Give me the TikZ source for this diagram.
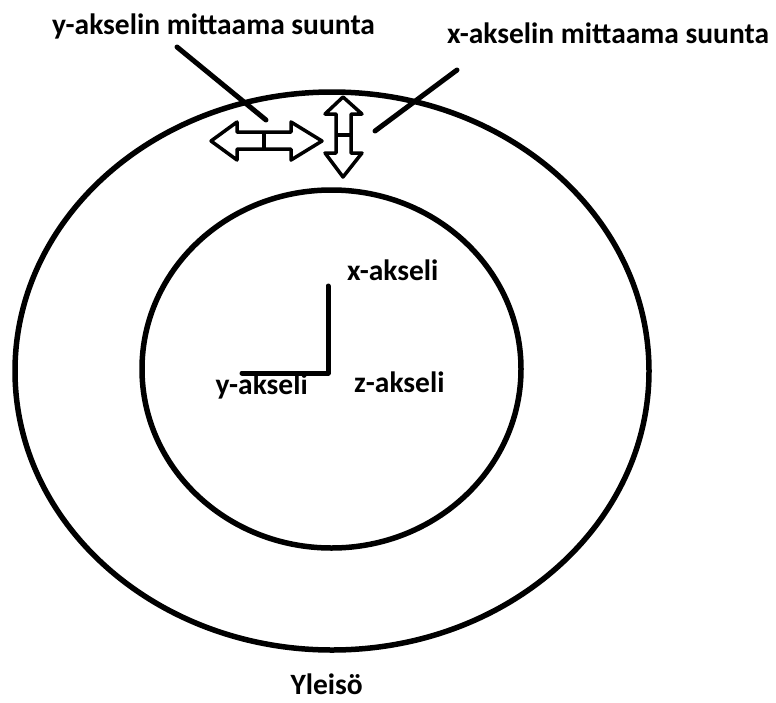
\documentclass[tikz,border=0pt]{standalone}
\usepackage{fontspec}
\setmainfont{Carlito}
\usetikzlibrary{positioning}
\tikzset{
  lbl/.style={font=\bfseries\fontsize{29.5}{34}\selectfont, inner sep=0pt, anchor=base west},
  ring/.style={line width=5.5pt},
  lead/.style={line width=5pt, line cap=round},
  blkarr/.style={line width=3.5pt, line join=round, fill=white},
  axisline/.style={line width=5pt, line cap=round, line join=round},
}
\begin{document}
\begin{tikzpicture}[x=1pt, y=-1pt]
  \useasboundingbox (0,0) rectangle (776,702);
  % outer and inner ring
  \draw[ring] (332,371) ellipse [x radius=317, y radius=279];
  \draw[ring] (331.5,369) ellipse [x radius=189.5, y radius=179];

  % labels
  \node[lbl] (ydir) at (52,34) {y-akselin mittaama suunta};
  \node[lbl] (xdir) at (447,43) {x-akselin mittaama suunta};
  \node[lbl] (xax) at (347,280) {x-akseli};
  \node[lbl] (zax) at (354,392) {z-akseli};
  \node[lbl, anchor=base east] (yax) at (308,394) {y-akseli};
  \node[lbl, anchor=base east] (yleiso) at (363,694) {Yleisö};

  % leader lines
  \coordinate (ylead1) at (177,47);
  \coordinate (ylead2) at (266,120);
  \coordinate (xlead1) at (457,70);
  \coordinate (xlead2) at (375,131);
  \draw[lead] (ylead1) -- (ylead2);
  \draw[lead] (xlead1) -- (xlead2);

  % sensor directions
  \draw[blkarr] (211,141) -- (237,122) -- (237,132) -- (291,132) -- (291,122)
    -- (322,141) -- (291,160) -- (291,149) -- (237,149) -- (237,160) -- cycle;
  \draw[blkarr] (264,132) -- (264,149);
  \draw[blkarr] (343,97) -- (362,114) -- (351,114) -- (351,153) -- (362,153)
    -- (343,177) -- (325,153) -- (336,153) -- (336,114) -- (325,114) -- cycle;
  \draw[blkarr] (336,135) -- (351,135);

  % axes
  \coordinate (orig) at (328,373);
  \coordinate (xend) at (328,286);
  \coordinate (yend) at (242,373);
  \draw[axisline] (xend) -- (orig) -- (yend);
\end{tikzpicture}
\end{document}
